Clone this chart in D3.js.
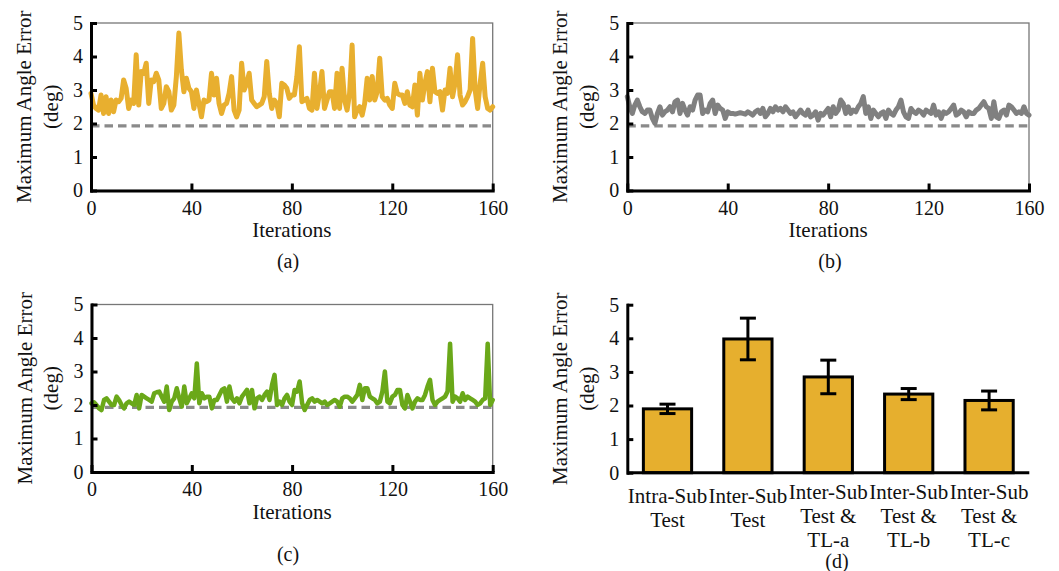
<!DOCTYPE html>
<html>
<head>
<meta charset="utf-8">
<script src="https://cdn.jsdelivr.net/npm/d3@7"></script>
<style>
  body { margin: 0; background: #fff; }
  text { font-family: "Liberation Serif", "Times New Roman", Times, serif; fill: #111; }
</style>
</head>
<body>
<svg id="chart" width="1059" height="571"></svg>
<script>

// maximum angle error per iteration (a), (b), (c)
var errA = [2.90,2.55,2.45,2.40,2.85,2.30,2.80,2.30,2.70,2.35,
            2.70,2.65,2.75,3.30,3.05,2.45,2.70,2.60,4.05,2.55,
            3.55,3.50,3.80,2.60,3.30,3.25,3.50,3.30,2.45,2.60,
            3.10,2.95,2.40,2.55,3.40,4.70,3.60,2.95,3.35,3.05,
            2.95,2.45,3.00,2.60,2.20,2.70,2.65,2.70,3.50,2.85,
            3.35,2.60,2.30,2.55,2.60,2.90,3.40,2.40,2.20,2.40,
            3.80,3.00,3.20,3.50,2.70,2.60,2.50,2.55,2.60,2.80,
            3.85,2.90,2.45,2.70,2.60,2.20,3.20,3.15,3.05,2.75,
            2.85,2.85,3.40,4.29,2.65,2.70,2.75,2.45,2.40,3.50,
            2.45,2.90,3.55,2.45,2.70,2.95,2.95,2.45,3.50,2.45,
            3.65,2.70,2.40,2.90,4.34,2.20,2.40,2.50,2.25,2.60,
            3.35,2.70,3.40,2.70,2.95,3.95,2.80,2.70,2.75,2.55,
            2.45,3.20,2.90,2.85,2.85,2.60,2.95,2.55,2.50,3.15,
            2.25,3.50,2.70,3.20,3.55,2.65,3.65,2.95,2.90,2.95,
            2.40,3.00,2.90,3.65,2.80,3.20,4.05,2.85,2.55,2.65,
            2.80,3.00,4.54,3.00,2.45,3.20,3.80,2.80,2.45,2.40,
            2.50];

var errB = [2.80,2.50,2.30,2.55,2.70,2.50,2.35,2.30,2.40,2.40,
            2.15,2.00,2.30,2.50,2.25,2.35,2.40,2.50,2.35,2.65,
            2.70,2.30,2.60,2.40,2.25,2.50,2.40,2.70,2.85,2.85,
            2.30,2.40,2.35,2.60,2.70,2.30,2.55,2.45,2.40,2.15,
            2.35,2.30,2.30,2.28,2.30,2.32,2.30,2.28,2.35,2.30,
            2.25,2.35,2.40,2.30,2.45,2.20,2.30,2.45,2.35,2.50,
            2.40,2.45,2.35,2.50,2.40,2.30,2.35,2.20,2.30,2.40,
            2.30,2.25,2.40,2.20,2.25,2.35,2.10,2.30,2.25,2.35,
            2.45,2.20,2.50,2.30,2.40,2.70,2.60,2.30,2.50,2.30,
            2.40,2.35,2.50,2.60,2.80,2.30,2.50,2.15,2.40,2.30,
            2.20,2.30,2.35,2.15,2.40,2.30,2.25,2.40,2.50,2.70,
            2.35,2.20,2.15,2.45,2.35,2.30,2.40,2.35,2.25,2.40,
            2.35,2.30,2.55,2.25,2.35,2.15,2.35,2.30,2.35,2.45,
            2.55,2.25,2.30,2.40,2.35,2.20,2.35,2.30,2.30,2.40,
            2.45,2.55,2.65,2.50,2.45,2.15,2.65,2.20,2.15,2.35,
            2.40,2.25,2.55,2.50,2.40,2.30,2.35,2.30,2.50,2.30,
            2.25];

var errC = [2.05,2.08,2.00,1.90,1.85,2.15,2.20,2.10,2.00,2.00,
            2.25,2.15,2.00,1.90,2.05,2.10,2.05,2.00,2.30,1.90,
            2.30,2.25,2.20,2.15,2.10,2.35,2.38,2.40,2.25,2.10,
            2.55,1.85,2.10,2.20,2.50,2.20,1.95,2.55,2.05,2.20,
            2.35,2.20,3.24,2.05,2.35,2.20,2.25,2.25,1.90,2.15,
            2.15,2.30,2.45,2.50,2.10,2.55,2.20,2.10,2.20,2.05,
            2.25,2.35,2.45,2.05,2.45,1.90,2.20,2.25,2.15,2.30,
            2.40,2.15,2.60,2.90,2.00,2.10,2.00,2.20,2.30,2.10,
            2.00,2.45,2.40,2.70,2.05,1.85,2.00,2.15,2.20,2.10,
            2.15,2.10,2.05,2.10,2.00,2.05,2.10,2.15,2.10,1.95,
            2.20,2.25,2.25,2.20,2.10,2.20,2.30,2.60,2.15,2.50,
            2.50,2.25,2.20,2.15,2.05,2.10,2.40,3.00,2.10,2.05,
            2.25,2.30,2.45,2.45,2.00,1.90,2.30,2.10,1.90,2.10,
            2.20,2.15,2.15,2.30,2.55,2.75,2.15,2.00,2.10,2.15,
            2.20,2.25,2.40,3.83,2.10,2.25,2.20,2.10,2.35,2.15,
            2.25,2.20,2.15,2.10,2.00,2.05,2.15,2.20,3.83,2.00,
            2.15];

var reference = 1.93;   // dashed line
var xTicks = [0, 40, 80, 120, 160];
var yTicks = [0, 1, 2, 3, 4, 5];

// panel (d)
var categories = [["Intra-Sub", "Test"],
                  ["Inter-Sub", "Test"],
                  ["Inter-Sub", "Test &", "TL-a"],
                  ["Inter-Sub", "Test &", "TL-b"],
                  ["Inter-Sub", "Test &", "TL-c"]];
var barMeans = [1.90, 3.98, 2.85, 2.34, 2.15];
var barErr = [0.14, 0.62, 0.50, 0.165, 0.28];

var svg = d3.select("#chart");
var fmt = d3.format("d");

function yTitle(g, axisX, top, bottom) {
  var cy = (top + bottom) / 2;
  g.append("text")
      .attr("transform", "translate(" + (axisX - 60) + "," + cy + ")rotate(-90)")
      .attr("text-anchor", "middle")
      .style("font-size", "21px")
      .text("Maximum Angle Error");
  g.append("text")
      .attr("transform", "translate(" + (axisX - 33.5) + "," + cy + ")rotate(-90)")
      .attr("text-anchor", "middle")
      .style("font-size", "21px")
      .text("(deg)");
}

function styleAxis(a) {
  a.attr("font-family", null);
  a.select(".domain").attr("stroke", "#000").attr("stroke-width", 3).attr("stroke-linecap", "square");
  a.selectAll(".tick line").attr("stroke", "#000").attr("stroke-width", 3);
  a.selectAll(".tick text").style("font-size", "20px").attr("fill", "#111");
}

function linePanel(p) {
  var g = svg.append("g");
  var x = d3.scaleLinear().domain([0, 160]).range([p.left, p.right]);
  var y = d3.scaleLinear().domain([0, 5]).range([p.bottom, p.top]);

  // thin frame on top and right
  g.append("rect")
      .attr("x", p.left).attr("y", p.top)
      .attr("width", p.right - p.left).attr("height", p.bottom - p.top)
      .attr("fill", "none").attr("stroke", "#777").attr("stroke-width", 1.3);

  g.append("line")
      .attr("x1", x(0)).attr("x2", x(160))
      .attr("y1", y(reference)).attr("y2", y(reference))
      .attr("stroke", "#8a8a8a").attr("stroke-width", 3.3)
      .attr("stroke-dasharray", "8.5,5");

  var line = d3.line()
      .x(function(d, i) { return x(i); })
      .y(function(d) { return y(d); });

  g.append("path")
      .datum(p.data)
      .attr("d", line)
      .attr("fill", "none")
      .attr("stroke", p.color)
      .attr("stroke-width", p.width)
      .attr("stroke-linejoin", "round")
      .attr("stroke-linecap", "round");

  var ax = g.append("g")
      .attr("transform", "translate(0," + p.bottom + ")")
      .call(d3.axisBottom(x).tickValues(xTicks).tickFormat(fmt)
            .tickSizeInner(-7).tickSizeOuter(0).tickPadding(10));
  styleAxis(ax);

  var ay = g.append("g")
      .attr("transform", "translate(" + p.left + ",0)")
      .call(d3.axisLeft(y).tickValues(yTicks).tickFormat(fmt)
            .tickSizeInner(-6).tickSizeOuter(0).tickPadding(8));
  styleAxis(ay);

  g.append("text")
      .attr("x", (p.left + p.right) / 2)
      .attr("y", p.bottom + 46.5)
      .attr("text-anchor", "middle")
      .style("font-size", "21px")
      .text("Iterations");

  g.append("text")
      .attr("x", p.capX)
      .attr("y", p.capY)
      .attr("text-anchor", "middle")
      .style("font-size", "20px")
      .text(p.caption);

  yTitle(g, p.left, p.top, p.bottom);
}

linePanel({left: 91, right: 492.7, top: 23, bottom: 190.5, data: errA,
           color: "#e8af2f", width: 5, caption: "(a)", capX: 288, capY: 268});
linePanel({left: 627.3, right: 1029, top: 23, bottom: 190.5, data: errB,
           color: "#808080", width: 5, caption: "(b)", capX: 830, capY: 268});
linePanel({left: 91.5, right: 492.7, top: 304.5, bottom: 472, data: errC,
           color: "#6aa819", width: 4.5, caption: "(c)", capX: 288, capY: 561});

// panel (d): bar chart with error bars
(function() {
  var left = 627.3, right = 1029.3, top = 304.7, bottom = 472.7;
  var g = svg.append("g");
  var x = d3.scaleBand().domain(d3.range(categories.length)).range([left, right])
      .paddingInner(0.4).paddingOuter(0.2);
  var y = d3.scaleLinear().domain([0, 5]).range([bottom, top]);

  g.selectAll(".bar")
      .data(barMeans)
    .enter().append("rect")
      .attr("class", "bar")
      .attr("x", function(d, i) { return x(i); })
      .attr("y", function(d) { return y(d); })
      .attr("width", x.bandwidth())
      .attr("height", function(d) { return bottom - y(d); })
      .attr("fill", "#e6af2e")
      .attr("stroke", "#000")
      .attr("stroke-width", 3);

  var eb = g.selectAll(".err")
      .data(barMeans)
    .enter().append("g")
      .attr("class", "err")
      .attr("transform", function(d, i) { return "translate(" + (x(i) + x.bandwidth() / 2) + ",0)"; })
      .attr("stroke", "#000").attr("stroke-width", 3);
  eb.append("line")
      .attr("y1", function(d, i) { return y(d - barErr[i]); })
      .attr("y2", function(d, i) { return y(d + barErr[i]); });
  eb.append("line")
      .attr("x1", -8).attr("x2", 8)
      .attr("y1", function(d, i) { return y(d + barErr[i]); })
      .attr("y2", function(d, i) { return y(d + barErr[i]); });
  eb.append("line")
      .attr("x1", -8).attr("x2", 8)
      .attr("y1", function(d, i) { return y(d - barErr[i]); })
      .attr("y2", function(d, i) { return y(d - barErr[i]); });

  var ay = g.append("g")
      .attr("transform", "translate(" + left + ",0)")
      .call(d3.axisLeft(y).tickValues(yTicks).tickFormat(fmt)
            .tickSizeInner(-6).tickSizeOuter(0).tickPadding(8));
  styleAxis(ay);

  g.append("line")
      .attr("x1", left).attr("x2", right)
      .attr("y1", bottom).attr("y2", bottom)
      .attr("stroke", "#000").attr("stroke-width", 3);

  g.selectAll(".cat")
      .data(categories)
    .enter().append("text")
      .attr("class", "cat")
      .attr("text-anchor", "middle")
      .style("font-size", "21px")
      .attr("transform", function(d, i) {
        return "translate(" + (x(i) + x.bandwidth() / 2) + "," + (d.length > 2 ? 499 : 503) + ")";
      })
      .each(function(d) {
        var t = d3.select(this);
        d.forEach(function(s, k) {
          t.append("tspan").attr("x", 0).attr("y", k * 24).text(s);
        });
      });

  g.append("text")
      .attr("x", 837).attr("y", 568)
      .attr("text-anchor", "middle")
      .style("font-size", "20px")
      .text("(d)");

  yTitle(g, left, top, bottom);
})();

</script>
</body>
</html>
